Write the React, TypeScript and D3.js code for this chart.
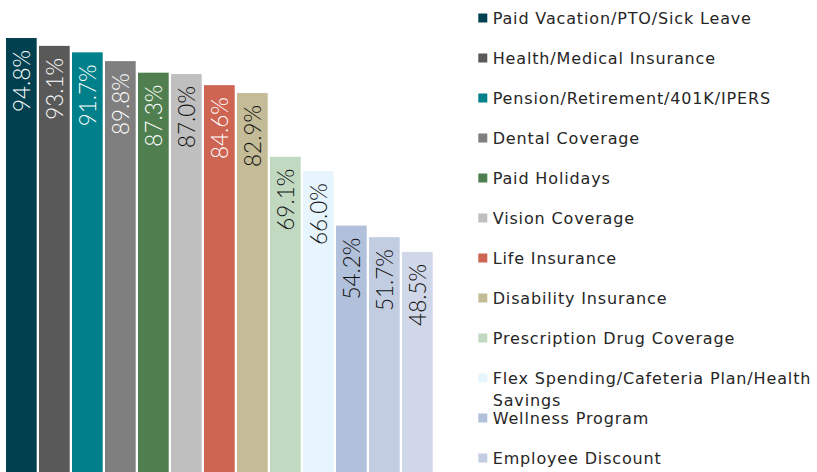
import React from "react";
import * as d3 from "d3";

const categories = [
  "Paid Vacation/PTO/Sick Leave",
  "Health/Medical Insurance",
  "Pension/Retirement/401K/IPERS",
  "Dental Coverage",
  "Paid Holidays",
  "Vision Coverage",
  "Life Insurance",
  "Disability Insurance",
  "Prescription Drug Coverage",
  "Flex Spending/Cafeteria Plan/Health Savings",
  "Wellness Program",
  "Employee Discount",
  "Other Benefit",
];
const legendLines = [
  ["Paid Vacation/PTO/Sick Leave"],
  ["Health/Medical Insurance"],
  ["Pension/Retirement/401K/IPERS"],
  ["Dental Coverage"],
  ["Paid Holidays"],
  ["Vision Coverage"],
  ["Life Insurance"],
  ["Disability Insurance"],
  ["Prescription Drug Coverage"],
  ["Flex Spending/Cafeteria Plan/Health", "Savings"],
  ["Wellness Program"],
  ["Employee Discount"],
];
const values = [94.8, 93.1, 91.7, 89.8, 87.3, 87.0, 84.6, 82.9, 69.1, 66.0, 54.2, 51.7, 48.5];
const colors = [
  "#01404F", "#595959", "#00808A", "#7F7F7F", "#507F4F", "#BFBFBF", "#CE6452",
  "#C4BC97", "#C2D9C1", "#E7F6FE", "#B1C1DB", "#C2CDE1", "#D0D7E8",
];
const labelColors = [
  "#ffffff", "#ffffff", "#ffffff", "#ffffff", "#ffffff", "#111111", "#ffffff",
  "#111111", "#111111", "#111111", "#111111", "#111111", "#111111",
];

const W = 817;
const H = 472;

export default function App() {
  const x = d3.scaleBand<string>().domain(categories).range([6, 432.7]).paddingInner(0.07).paddingOuter(0);
  const y = d3.scaleLinear().domain([0, 100]).range([476, 14]);
  const font = "'DejaVu Sans', sans-serif";
  return (
    <svg width={W} height={H} style={{ position: "absolute", left: 0, top: 0, background: "#fff" }}>
      {categories.map((c, i) => {
        const x0 = x(c) as number;
        const yt = y(values[i]);
        const cx = x0 + x.bandwidth() / 2;
        return (
          <g key={c}>
            <rect x={x0} y={yt} width={x.bandwidth()} height={y(0) - yt} fill={colors[i]} />
            <text
              transform={`translate(${cx + 0.8},${yt + 12}) rotate(-90)`}
              textAnchor="end"
              dy="0.36em"
              fill={labelColors[i]}
              style={{ fontFamily: "Lato, sans-serif", fontWeight: 300, fontSize: 22.5 }}
            >
              {d3.format(".1f")(values[i]) + "%"}
            </text>
          </g>
        );
      })}
      {legendLines.map((lines, i) => {
        const yb = 24 + i * 40;
        return (
          <g key={i}>
            <rect x={478.3} y={yb - 10.5} width={9} height={9} fill={colors[i]} />
            <text x={492.7} y={yb} fill="#262626" style={{ fontFamily: font, fontSize: 16, letterSpacing: 0.85 }}>
              {lines.map((l, j) => (
                <tspan key={j} x={492.7} dy={j === 0 ? 0 : 22}>
                  {l}
                </tspan>
              ))}
            </text>
          </g>
        );
      })}
    </svg>
  );
}
